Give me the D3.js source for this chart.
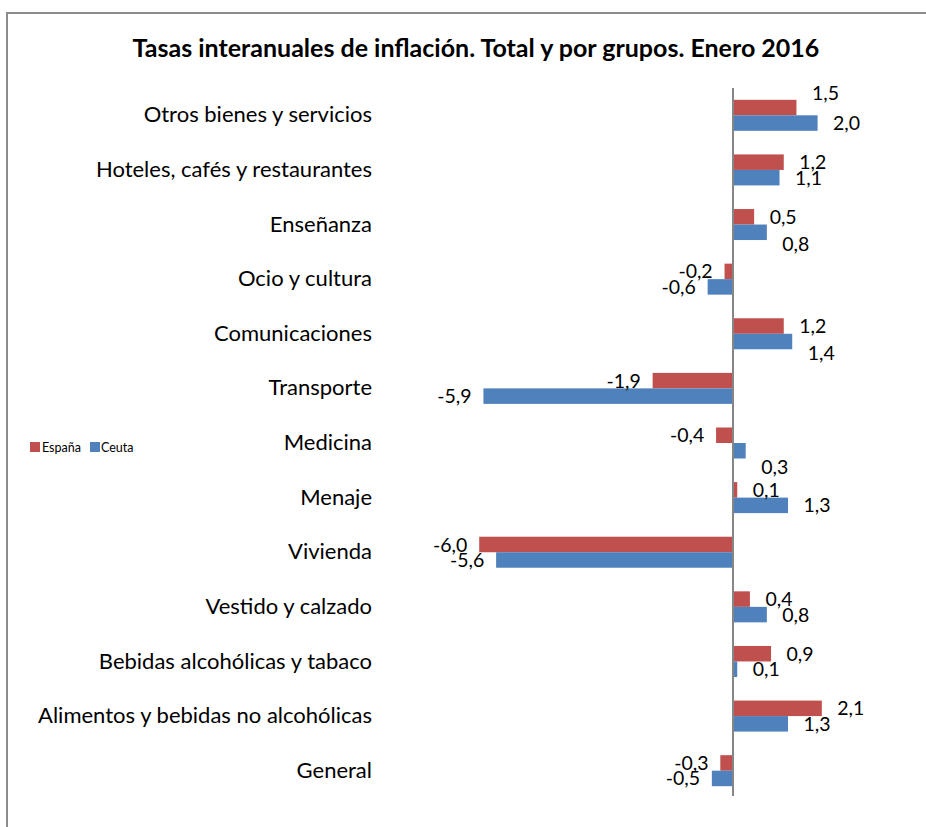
<!DOCTYPE html>
<html><head><meta charset="utf-8">
<script src="https://cdn.jsdelivr.net/npm/d3@7"></script>
<style>body{margin:0;background:#fff}svg{display:block}</style>
</head><body>
<script>
const categories = ["Otros bienes y servicios","Hoteles, cafés y restaurantes","Enseñanza","Ocio y cultura","Comunicaciones","Transporte","Medicina","Menaje","Vivienda","Vestido y calzado","Bebidas alcohólicas y tabaco","Alimentos y bebidas no alcohólicas","General"];
const series = ["España","Ceuta"];
const espana = [1.5,1.2,0.5,-0.2,1.2,-1.9,-0.4,0.1,-6.0,0.4,0.9,2.1,-0.3];
const ceuta  = [2.0,1.1,0.8,-0.6,1.4,-5.9,0.3,1.3,-5.6,0.8,0.1,1.3,-0.5];
// vertical label nudges (Excel label collision offsets)
const nudgeEsp = [-15,0,0,0,0,0,0,0,0,0,0,0,0];
const nudgeCeu = [0,0,12,0,11,0,16,0,0,0,0,0,0];
const colors = {"España":"#C0504D","Ceuta":"#4F81BD"};
const title = "Tasas interanuales de inflación. Total y por grupos. Enero 2016";

const W=926,H=827;
const svg=d3.select("body").append("svg").attr("width",W).attr("height",H);
const FONT="Lato, 'Open Sans', sans-serif";

svg.append("rect").attr("x",7).attr("y",13).attr("width",960).attr("height",860)
  .attr("fill","none").attr("stroke","#8c8c8c").attr("stroke-width",2);

svg.append("text").attr("x",476).attr("y",57).attr("text-anchor","middle")
  .attr("font-family",FONT).attr("font-weight","bold").attr("font-size",25)
  .attr("fill","#000").text(title);

const x=d3.scaleLinear().domain([-6,2]).range([733-6*42.3,733+2*42.3]);
const y0=d3.scaleBand().domain(categories).range([88,798]).padding(0);
const pair=31;
const y1=d3.scaleBand().domain(series).range([0,pair]);
const off=(y0.bandwidth()-pair)/2;

const rows=categories.map((c,i)=>[
  {c,s:"España",v:espana[i],n:nudgeEsp[i]},
  {c,s:"Ceuta",v:ceuta[i],n:nudgeCeu[i]}]).flat();

svg.append("g").selectAll("rect").data(rows).join("rect")
  .attr("x",d=>x(Math.min(0,d.v))).attr("width",d=>Math.abs(x(d.v)-x(0)))
  .attr("y",d=>y0(d.c)+off+y1(d.s)).attr("height",y1.bandwidth())
  .attr("fill",d=>colors[d.s]);

const fmt=v=>d3.format(".1f")(v).replace(".",",").replace("−","-");
svg.append("g").selectAll("text").data(rows).join("text")
  .attr("x",d=>x(d.v)+(d.v<0?-29:29))
  .attr("y",d=>y0(d.c)+off+y1(d.s)+y1.bandwidth()/2+d.n)
  .attr("dy","0.36em").attr("text-anchor","middle")
  .attr("font-family",FONT).attr("font-size",19.5).attr("fill","#000")
  .text(d=>fmt(d.v));

// zero axis
svg.append("line").attr("x1",x(0)).attr("x2",x(0)).attr("y1",88).attr("y2",796)
  .attr("stroke","#868686").attr("stroke-width",2);

// category axis
const ax=svg.append("g").attr("transform","translate(372,0)")
  .call(d3.axisLeft(y0).tickSize(0).tickPadding(0));
ax.select(".domain").remove();
ax.selectAll("text").attr("font-family",FONT).attr("font-size",22).attr("fill","#000");

// legend
const lg=svg.append("g").attr("transform","translate(30,442)");
const items=[{s:"España",x:0,tx:12},{s:"Ceuta",x:60,tx:71}];
lg.selectAll("rect").data(items).join("rect").attr("x",d=>d.x).attr("y",0)
  .attr("width",10).attr("height",10).attr("fill",d=>colors[d.s]);
lg.selectAll("text").data(items).join("text").attr("x",d=>d.tx).attr("y",5).attr("dy","0.36em")
  .attr("font-family",FONT).attr("font-size",12.5).attr("fill","#000").text(d=>d.s);
</script>
</body></html>
